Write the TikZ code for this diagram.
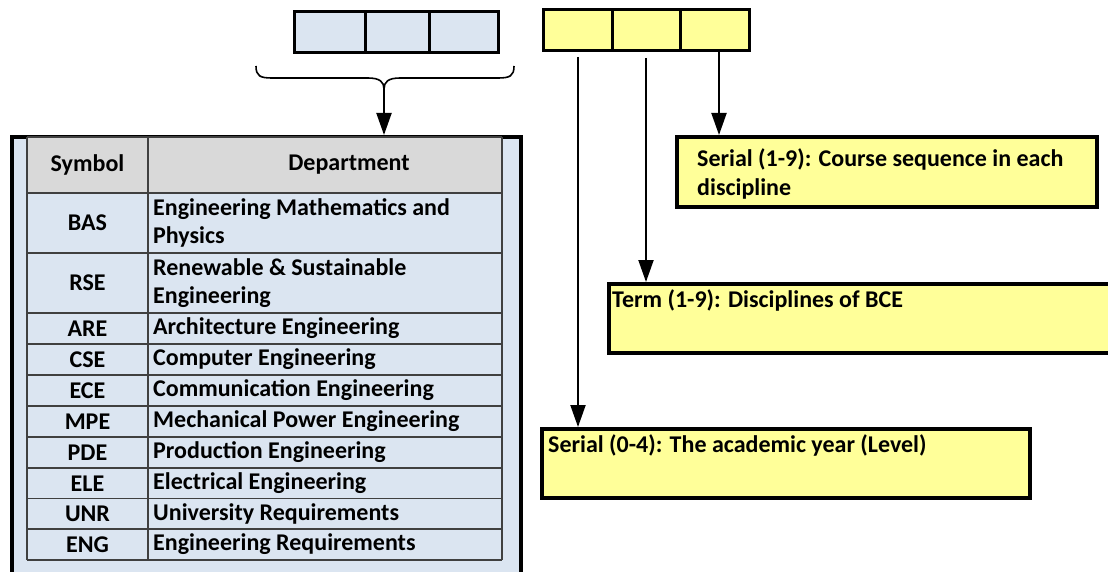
\documentclass[tikz,border=0pt]{standalone}
\usepackage{fontspec}
\setmainfont{Carlito}
\usetikzlibrary{arrows.meta}
\definecolor{cellblue}{HTML}{DBE5F1}
\definecolor{noteyellow}{HTML}{FFFF99}
\definecolor{headgray}{HTML}{D9D9D9}
\definecolor{gridgray}{HTML}{404040}

\tikzset{
  codecell/.style={draw, line width=3pt, inner sep=0pt, minimum height=41pt},
  bluecell/.style={codecell, fill=cellblue},
  yellowcell/.style={codecell, fill=noteyellow},
  notebox/.style={draw, line width=4pt, fill=noteyellow, inner sep=0pt, anchor=north west},
  notetext/.style={anchor=west, inner sep=0pt, align=left},
  arr/.style={line width=2pt, -{Triangle[length=22pt,width=15pt]}},
  grid/.style={draw=gridgray, line width=1.5pt},
  symtext/.style={inner sep=0pt, anchor=center},
  deptext/.style={inner sep=0pt, anchor=west, align=left},
}

\begin{document}
\begin{tikzpicture}[x=1pt, y=-1pt, font=\fontsize{24}{28.5}\selectfont\bfseries]
\path[use as bounding box] (0,0) rectangle (1108,572);
\clip (0,0) rectangle (1108,572);

% department code: three blue cells
\node[bluecell, minimum width=71pt] (b1) at (329.5,32) {};
\node[bluecell, minimum width=64pt] (b2) at (397,32) {};
\node[bluecell, minimum width=69pt] (b3) at (463.5,32) {};

% course number: three yellow cells
\node[yellowcell, minimum width=69pt] (y1) at (577.5,30.5) {};
\node[yellowcell, minimum width=68pt] (y2) at (646,30.5) {};
\node[yellowcell, minimum width=69pt] (y3) at (714.5,30.5) {};

% brace under the blue cells
\coordinate (bl) at (256,66);
\coordinate (br) at (514,66);
\coordinate (bt) at (384,89);
\draw[line width=1.6pt]
  (bl) .. controls (256,76) and (260,78) .. (272,78) -- (368,78)
       .. controls (380,78) and (384,82) .. (bt)
       .. controls (384,82) and (388,78) .. (400,78) -- (498,78)
       .. controls (510,78) and (514,76) .. (br);

% table frame
\node[draw, line width=4pt, fill=cellblue, inner sep=0pt, anchor=north west,
      minimum width=509pt, minimum height=460pt] (tab) at (10,135) {};
\draw[arr] (bt) -- (bt |- tab.north);

% table header and body
\fill[headgray] (27,137) rectangle (502,193);
\foreach \y in {137,193,253,313,344,375,406,437,468,498.5,529,560}
  \draw[grid] (27,\y) -- (502,\y);
\foreach \x in {27,148,502}
  \draw[grid] (\x,137) -- (\x,560);

\node[symtext] (hsym) at (87.5,165) {Symbol};
\node[symtext] (hdep) at (349,165) {Department};

\node[symtext] (s1) at (87.5,223) {BAS};
\node[deptext] (d1) at (153,223) {Engineering Mathematics and\\Physics};
\node[symtext] (s2) at (87.5,283) {RSE};
\node[deptext] (d2) at (153,283) {Renewable \& Sustainable\\Engineering};

\foreach \s/\d/\y [count=\i from 3] in {
  ARE/Architecture Engineering/328.5,
  CSE/Computer Engineering/359.5,
  ECE/Communication Engineering/390.5,
  MPE/Mechanical Power Engineering/421.5,
  PDE/Production Engineering/452.5,
  ELE/Electrical Engineering/483.3,
  UNR/University Requirements/513.8,
  ENG/Engineering Requirements/544.5} {
  \node[symtext] (s\i) at (87.5,\y) {\s};
  \node[deptext] (d\i) at (153,\y) {\d};
}

% explanation boxes
\node[notebox, minimum width=420pt, minimum height=70pt] (n1) at (675,135) {};
\node[notetext] (n1t) at (697,174) {Serial (1-9): Course sequence in each\\discipline};
\node[notebox, minimum width=510pt, minimum height=69pt] (n2) at (607,282) {};
\node[notetext] (n2t) at (612,300) {Term (1-9): Disciplines of BCE};
\node[notebox, minimum width=488pt, minimum height=69pt] (n3) at (540,427) {};
\node[notetext] (n3t) at (548,445) {Serial (0-4): The academic year (Level)};

% connectors from the yellow cells
\coordinate (t1) at (578,57);
\coordinate (t2) at (646,58);
\coordinate (t3) at (719,52);
\draw[arr] (t3) -- (t3 |- n1.north);
\draw[arr] (t2) -- (t2 |- n2.north);
\draw[arr] (t1) -- (t1 |- n3.north);
\end{tikzpicture}
\end{document}
